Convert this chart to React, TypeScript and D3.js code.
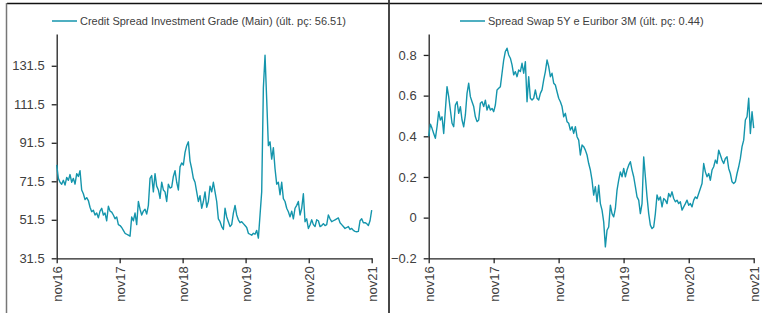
import React, { useEffect, useRef } from 'react';
import * as d3 from 'd3';

// credit spread, roughly every 9-10 days from nov16 to nov21
const creditSpread = [
  80, 73, 71, 70, 72, 69.5, 73.5, 72, 75, 71, 73, 70, 75.5, 74, 77, 67, 65, 62, 63, 61.5,
  58, 55.7, 56.5, 54, 55, 52.5, 56, 57.5, 54, 55, 51, 58.5, 56, 55.5, 54, 52, 53, 49, 48.5, 47.5,
  46, 44.5, 44, 43.5, 43, 53, 51, 55, 49, 61, 57, 54, 56, 57, 54.5, 59, 73, 74.5, 66, 75.5,
  69, 67, 62.6, 71, 67, 66, 61, 70, 68, 68.5, 74, 77, 71, 67, 79, 81, 80, 86.5, 90, 92,
  82, 78, 73, 71, 66, 61, 64, 57.5, 61, 66, 58, 61, 69, 66, 71, 66, 61, 52, 50.5, 48,
  46.5, 57.5, 53, 50.5, 48, 49, 55, 59, 54, 51.5, 50, 50.5, 49.5, 48.5, 47.5, 44.5, 44, 43.5, 44.5, 44,
  46, 42, 54, 66, 120, 137, 114, 90, 92, 83, 89, 78, 70, 71, 64.5, 71, 62.5, 61, 57.5, 55.7,
  53, 56, 52, 57.5, 59, 61, 54, 57.5, 65, 50.5, 52, 47, 48.8, 51.5, 49, 48, 51.5, 51, 48, 48.5,
  49.5, 48.5, 49, 54, 52, 50.5, 51, 51.5, 52, 52.5, 50, 49, 48, 47, 47.5, 48, 46.5, 47, 46, 45.5,
  45.3, 45.5, 51, 52, 50, 50, 49.5, 48.5, 51, 56.51
];

// swap 5Y vs euribor 3M spread, same period
const swapSpread = [
  0.4, 0.46, 0.439, 0.414, 0.39, 0.447, 0.521, 0.48, 0.496, 0.414, 0.529, 0.644, 0.595, 0.529, 0.464, 0.447,
  0.554, 0.57, 0.513, 0.546, 0.48, 0.447, 0.505, 0.611, 0.661, 0.595, 0.57, 0.546, 0.496, 0.472, 0.48, 0.562,
  0.57, 0.546, 0.578, 0.529, 0.554, 0.529, 0.537, 0.521, 0.554, 0.628, 0.636, 0.644, 0.71, 0.775, 0.817, 0.833,
  0.8, 0.784, 0.751, 0.702, 0.718, 0.693, 0.726, 0.718, 0.759, 0.71, 0.767, 0.57, 0.693, 0.587, 0.578, 0.587,
  0.628, 0.587, 0.578, 0.611, 0.628, 0.677, 0.718, 0.775, 0.743, 0.693, 0.71, 0.661, 0.652, 0.619, 0.587, 0.57,
  0.546, 0.496, 0.513, 0.472, 0.464, 0.431, 0.447, 0.414, 0.447, 0.398, 0.381, 0.308, 0.357, 0.349, 0.332, 0.308,
  0.266, 0.234, 0.184, 0.111, 0.152, 0.078, 0.16, 0.069, 0.037, -0.021, -0.144, -0.062, -0.046, 0.061, 0.02, 0.004,
  0.045, 0.135, 0.184, 0.225, 0.201, 0.242, 0.201, 0.234, 0.258, 0.275, 0.234, 0.201, 0.152, 0.102, 0.086, 0.02,
  0.069, 0.299, 0.201, 0.102, 0.02, -0.037, -0.054, -0.046, 0.02, 0.111, 0.086, 0.102, 0.053, 0.094, 0.086, 0.069,
  0.119, 0.102, 0.127, 0.094, 0.078, 0.086, 0.069, 0.078, 0.037, 0.053, 0.069, 0.086, 0.061, 0.069, 0.053, 0.086,
  0.102, 0.094, 0.119, 0.143, 0.168, 0.266, 0.225, 0.201, 0.217, 0.184, 0.234, 0.25, 0.283, 0.266, 0.332, 0.308,
  0.283, 0.266, 0.291, 0.299, 0.242, 0.217, 0.176, 0.168, 0.176, 0.217, 0.25, 0.291, 0.349, 0.381, 0.48, 0.496,
  0.587, 0.414, 0.521, 0.44
];

const tickDates = ['2016-11-01', '2017-11-01', '2018-11-01', '2019-11-01', '2020-11-01', '2021-11-01'];
const tickLabels = ['nov16', 'nov17', 'nov18', 'nov19', 'nov20', 'nov21'];
const creditTicks = [31.5, 51.5, 71.5, 91.5, 111.5, 131.5];
const swapTicks = [-0.2, 0, 0.2, 0.4, 0.6, 0.8];

const LINE = '#1495ac';
const TEXT = '#404040';
const FONT = '"Liberation Sans", Arial, sans-serif';

const drawPanel = (svg, opts) => {
  const { values, yDomain, yTicks, fmt, x0, x1, yTop, yBottom, legend, legendX } = opts;
  const start = new Date(tickDates[0]);
  const end = new Date(tickDates[tickDates.length - 1]);

  const x = d3.scaleTime().domain([start, end]).range([x0, x1]);
  const y = d3.scaleLinear().domain(yDomain).range([yBottom, yTop]);
  const step = (end.getTime() - start.getTime()) / (values.length - 1);
  const data = values.map((v, i) => ({ date: new Date(start.getTime() + i * step), v }));

  const g = svg.append('g');

  // y axis
  const yAxis = g
    .append('g')
    .attr('transform', `translate(${x0}, 0)`)
    .call(d3.axisLeft(y).tickValues(yTicks).tickFormat(fmt).tickSize(5).tickSizeOuter(0).tickPadding(7));
  yAxis.select('.domain').attr('stroke', '#222').attr('stroke-width', 1.3);
  yAxis.selectAll('.tick line').attr('stroke', '#222').attr('stroke-width', 1.3);
  yAxis.selectAll('text').style('font-size', '13px').style('font-family', FONT).attr('fill', TEXT);

  // x axis
  const xAxis = g
    .append('g')
    .attr('transform', `translate(0, ${yBottom})`)
    .call(
      d3
        .axisBottom(x)
        .tickValues(tickDates.map(d => new Date(d)))
        .tickFormat((d, i) => tickLabels[i])
        .tickSize(5)
        .tickSizeOuter(0)
    );
  xAxis.select('.domain').attr('stroke', '#222').attr('stroke-width', 1.3);
  xAxis.selectAll('.tick line').attr('stroke', '#222').attr('stroke-width', 1.3);
  xAxis
    .selectAll('text')
    .style('font-size', '13px')
    .style('font-family', FONT)
    .attr('fill', TEXT)
    .attr('text-anchor', 'end')
    .attr('transform', 'rotate(-90)')
    .attr('x', -8)
    .attr('y', 0)
    .attr('dy', '0.35em');

  const line = d3
    .line()
    .x(d => x(d.date))
    .y(d => y(d.v));

  g.append('path')
    .datum(data)
    .attr('fill', 'none')
    .attr('stroke', LINE)
    .attr('stroke-width', 1.4)
    .attr('stroke-linejoin', 'round')
    .attr('d', line);

  // legend
  g.append('line')
    .attr('x1', legendX)
    .attr('x2', legendX + 25)
    .attr('y1', 21)
    .attr('y2', 21)
    .attr('stroke', LINE)
    .attr('stroke-width', 1.5);
  g.append('text')
    .attr('x', legendX + 28)
    .attr('y', 25)
    .style('font-size', '11px')
    .style('font-family', FONT)
    .attr('fill', TEXT)
    .text(legend);
};

const App = () => {
  const svgRef = useRef();

  useEffect(() => {
    const svg = d3.select(svgRef.current);
    svg.selectAll('*').remove();

    // frame
    svg.append('line').attr('x1', 7).attr('x2', 762).attr('y1', 3.5).attr('y2', 3.5).attr('stroke', '#111').attr('stroke-width', 1.5);
    svg.append('line').attr('x1', 6.5).attr('x2', 6.5).attr('y1', 3).attr('y2', 313).attr('stroke', '#777').attr('stroke-width', 1.5);
    svg.append('line').attr('x1', 389).attr('x2', 389).attr('y1', 0).attr('y2', 313).attr('stroke', '#333').attr('stroke-width', 1.8);

    drawPanel(svg, {
      values: creditSpread,
      yDomain: [31.5, 148],
      yTicks: creditTicks,
      fmt: d3.format('.1f'),
      x0: 56.7,
      x1: 371.7,
      yTop: 34,
      yBottom: 258.3,
      legend: 'Credit Spread Investment Grade (Main) (últ. pç: 56.51)',
      legendX: 52
    });

    drawPanel(svg, {
      values: swapSpread,
      yDomain: [-0.2, 0.903],
      yTicks: swapTicks,
      fmt: d => (d === 0 ? '0' : d3.format('.1f')(d)),
      x0: 428.7,
      x1: 753.7,
      yTop: 34,
      yBottom: 258.3,
      legend: 'Spread Swap 5Y e Euribor 3M (últ. pç: 0.44)',
      legendX: 460
    });
  }, []);

  return (
    <>
      <style>{'body { margin: 0; }'}</style>
      <svg ref={svgRef} width={762} height={313} style={{ display: 'block', background: '#fff' }}></svg>
    </>
  );
};

export default App;
